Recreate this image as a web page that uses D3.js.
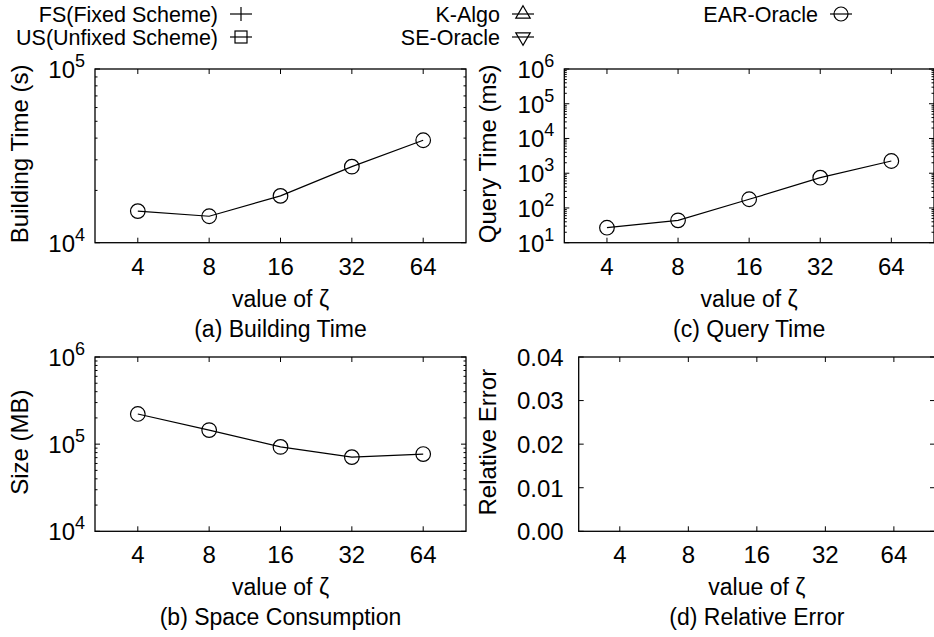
<!DOCTYPE html>
<html lang="en">
<head>
<meta charset="utf-8">
<title>Effect of zeta</title>
<style>
  body { margin: 0; background: #fff; }
  svg text { font-family: "Liberation Sans", Arial, sans-serif; fill: #000; font-size: 23px; }
  .legend text { font-size: 21.5px; }
  .frame { fill: none; stroke: #000; stroke-width: 1.3px; }
  .tick { stroke: #000; stroke-width: 1px; }
  .series { fill: none; stroke: #000; stroke-width: 1.2px; }
  .marker { fill: none; stroke: #000; stroke-width: 1.2px; }
</style>
</head>
<body>
<div id="graphic"></div>
<script src="https://cdnjs.cloudflare.com/ajax/libs/d3/7.8.5/d3.min.js"></script>
<script>
// values
var zeta = [4, 8, 16, 32, 64];
var buildTime = [15200, 14200, 18600, 27400, 38900];    // s
var spaceSize = [222000, 145000, 93000, 71000, 77000];  // MB
var queryTime = [27, 44, 178, 743, 2250];               // ms
var relError = [];                                       // no points in (d)
var errorTicks = [0, 0.01, 0.02, 0.03, 0.04];
var legendNames = ['FS(Fixed Scheme)', 'US(Unfixed Scheme)', 'K-Algo', 'SE-Oracle', 'EAR-Oracle'];
var legendSymbols = ['plus', 'square', 'triangle', 'triangleDown', 'circle'];

var width = 934, height = 637;

var svg = d3.select('#graphic').append('svg')
    .attr('width', width)
    .attr('height', height);

var panels = [
    {left: 95, right: 466, top: 69, bottom: 242.7, log: true, domain: [1e4, 1e5],
     ylabel: 'Building Time (s)', caption: '(a) Building Time', values: buildTime},
    {left: 564.3, right: 934, top: 69, bottom: 242.7, log: true, domain: [1e1, 1e6],
     ylabel: 'Query Time (ms)', caption: '(c) Query Time', values: queryTime},
    {left: 95, right: 466, top: 357, bottom: 531.3, log: true, domain: [1e4, 1e6],
     ylabel: 'Size (MB)', caption: '(b) Space Consumption', values: spaceSize},
    {left: 578.7, right: 935, top: 357, bottom: 531.3, log: false, domain: [0, 0.04],
     ylabel: 'Relative Error', caption: '(d) Relative Error', values: relError}
];

var majorLen = 5, minorLen = 2.5;

function drawPanel(p) {
    var g = svg.append('g');
    var x = d3.scalePoint().domain(zeta).range([p.left, p.right]).padding(0.6);
    var y = (p.log ? d3.scaleLog() : d3.scaleLinear()).domain(p.domain).range([p.bottom, p.top]);

    // y ticks (major + log minors), mirrored on the right side
    var major, minor = [];
    if (p.log) {
        major = [];
        var lo = Math.round(Math.log10(p.domain[0])), hi = Math.round(Math.log10(p.domain[1]));
        for (var k = lo; k <= hi; k++) {
            major.push(Math.pow(10, k));
            if (k < hi) for (var j = 2; j <= 9; j++) minor.push(j * Math.pow(10, k));
        }
    } else {
        major = errorTicks;
    }
    var yt = major.map(function(v) { return {v: v, len: majorLen}; })
        .concat(minor.map(function(v) { return {v: v, len: minorLen}; }));

    g.selectAll('.ytl').data(yt).enter().append('line').attr('class', 'tick')
        .attr('x1', p.left).attr('x2', function(d) { return p.left + d.len; })
        .attr('y1', function(d) { return y(d.v); }).attr('y2', function(d) { return y(d.v); });
    g.selectAll('.ytr').data(yt).enter().append('line').attr('class', 'tick')
        .attr('x1', p.right).attr('x2', function(d) { return p.right - d.len; })
        .attr('y1', function(d) { return y(d.v); }).attr('y2', function(d) { return y(d.v); });

    // x ticks bottom + top
    g.selectAll('.xtb').data(zeta).enter().append('line').attr('class', 'tick')
        .attr('x1', x).attr('x2', x)
        .attr('y1', p.bottom).attr('y2', p.bottom - majorLen);
    g.selectAll('.xtt').data(zeta).enter().append('line').attr('class', 'tick')
        .attr('x1', x).attr('x2', x)
        .attr('y1', p.top).attr('y2', p.top + majorLen);

    g.append('rect').attr('class', 'frame')
        .attr('x', p.left).attr('y', p.top)
        .attr('width', p.right - p.left).attr('height', p.bottom - p.top);

    // y tick labels
    major.forEach(function(v) {
        var t = g.append('text')
            .attr('x', p.left - (p.log ? 10 : 15))
            .attr('y', y(v))
            .attr('dy', '0.37em')
            .attr('text-anchor', 'end')
            .style('font-size', '24px');
        if (p.log) {
            t.append('tspan').text('10');
            t.append('tspan').attr('dy', -11).style('font-size', '18px')
                .text(Math.round(Math.log10(v)));
        } else {
            t.text(d3.format('.2f')(v));
        }
    });

    // x tick labels
    g.selectAll('.xl').data(zeta).enter().append('text')
        .attr('x', x).attr('y', p.bottom + 32)
        .attr('text-anchor', 'middle')
        .style('font-size', '24px')
        .text(function(d) { return d; });

    var cx = (p.left + p.right) / 2;
    g.append('text').attr('x', cx).attr('y', p.bottom + 64)
        .attr('text-anchor', 'middle').text('value of \u03B6');
    g.append('text').attr('x', cx).attr('y', p.bottom + 94)
        .attr('text-anchor', 'middle').text(p.caption);

    var lx = p.left < 300 ? 20 : 488;
    g.append('text')
        .attr('transform', 'translate(' + lx + ',' + ((p.top + p.bottom) / 2 - 2) + ') rotate(-90)')
        .attr('dy', '0.35em')
        .attr('text-anchor', 'middle')
        .style('font-size', '24px')
        .text(p.ylabel);

    // EAR-Oracle series
    if (p.values.length) {
        var pts = zeta.map(function(z, i) { return [x(z), y(p.values[i])]; });
        g.append('path').attr('class', 'series').attr('d', d3.line()(pts));
        g.selectAll('.pt').data(pts).enter().append('circle').attr('class', 'marker')
            .attr('cx', function(d) { return d[0]; })
            .attr('cy', function(d) { return d[1]; })
            .attr('r', 7.3);
    }
}

panels.forEach(drawPanel);

// legend: three columns, text right-aligned then a sample
var legCols = [218, 500, 818], legRows = [22, 45];
legendNames.forEach(function(name, i) {
    var col = Math.floor(i / 2), row = i % 2;
    var tx = legCols[col], ty = legRows[row];
    var g = svg.append('g').attr('class', 'legend');
    g.append('text').attr('x', tx).attr('y', ty).attr('text-anchor', 'end').text(name);
    var sx = tx + 23, sy = ty - 8;
    g.append('line').attr('class', 'series')
        .attr('x1', sx - 11).attr('x2', sx + 11).attr('y1', sy).attr('y2', sy);
    var s = legendSymbols[i];
    if (s === 'plus') {
        g.append('line').attr('class', 'series')
            .attr('x1', sx).attr('x2', sx).attr('y1', sy - 7).attr('y2', sy + 7);
    } else if (s === 'square') {
        g.append('rect').attr('class', 'marker')
            .attr('x', sx - 6).attr('y', sy - 6).attr('width', 12).attr('height', 12);
    } else if (s === 'circle') {
        g.append('circle').attr('class', 'marker').attr('cx', sx).attr('cy', sy).attr('r', 7);
    } else {
        var tri = d3.symbol().type(d3.symbolTriangle).size(90);
        g.append('path').attr('class', 'marker')
            .attr('d', tri())
            .attr('transform', 'translate(' + sx + ',' + sy + ')' + (s === 'triangleDown' ? ' rotate(180)' : ''));
    }
});
</script>
</body>
</html>
